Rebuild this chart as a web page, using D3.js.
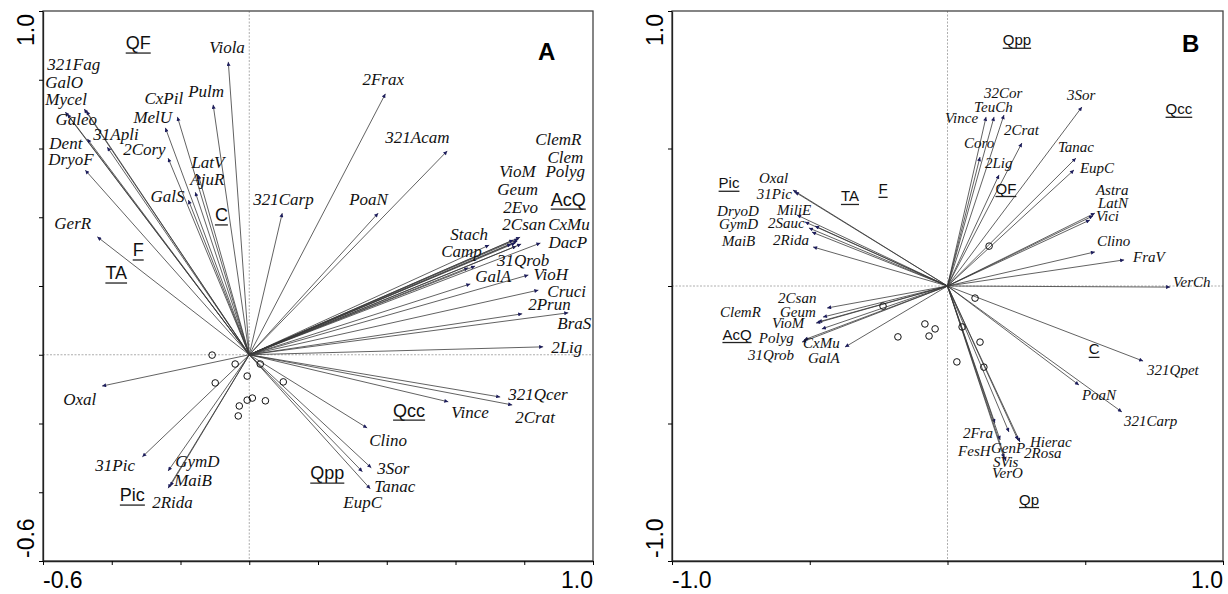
<!DOCTYPE html>
<html>
<head>
<meta charset="utf-8">
<script src="https://cdn.jsdelivr.net/npm/d3@7"></script>
<style>
  body { margin: 0; background: #fff; }
</style>
</head>
<body>
<svg id="chart" width="1228" height="594"></svg>
<script>
// ---- data: panel A (species arrow tips, env centroids, sites) ----
const speciesA = [
  ["Viola", -0.061, 0.852], ["Pulm", -0.105, 0.727], ["CxPil", -0.209, 0.692],
  ["MelU", -0.244, 0.660], ["321Fag", -0.480, 0.715], ["GalO", -0.474, 0.709],
  ["Mycel", -0.535, 0.706], ["Galeo", -0.529, 0.700], ["31Apli", -0.413, 0.604],
  ["Dent", -0.471, 0.628], ["DryoF", -0.477, 0.537], ["2Cory", -0.236, 0.572],
  ["LatV", -0.148, 0.523], ["AjuR", -0.157, 0.473], ["GalS", -0.177, 0.450],
  ["GerR", -0.442, 0.343], ["321Carp", 0.096, 0.412], ["2Frax", 0.396, 0.759],
  ["321Acam", 0.576, 0.593], ["PoaN", 0.375, 0.412], ["Stach", 0.698, 0.319],
  ["Camp", 0.637, 0.253], ["31Qrob", 0.657, 0.258], ["ClemR", 0.788, 0.342],
  ["Clem", 0.783, 0.337], ["Polyg", 0.780, 0.331], ["VioM", 0.768, 0.334],
  ["Geum", 0.774, 0.325], ["2Evo", 0.762, 0.322], ["2Csan", 0.777, 0.316],
  ["CxMu", 0.791, 0.322], ["DacP", 0.847, 0.325], ["VioH", 0.812, 0.232],
  ["GalA", 0.643, 0.206], ["Cruci", 0.841, 0.188], ["2Prun", 0.794, 0.119],
  ["BraS", 0.928, 0.122], ["2Lig", 0.855, 0.023], ["321Qcer", 0.730, -0.123],
  ["2Crat", 0.765, -0.146], ["Vince", 0.579, -0.137], ["Clino", 0.343, -0.213],
  ["3Sor", 0.355, -0.329], ["EupC", 0.329, -0.340], ["Tanac", 0.352, -0.390],
  ["Oxal", -0.428, -0.091], ["31Pic", -0.311, -0.297], ["GymD", -0.236, -0.338],
  ["MaiB", -0.236, -0.388], ["2Rida", -0.230, -0.382]
];
const envA = [
  ["QF", -0.323, 0.907], ["TA", -0.387, 0.238], ["F", -0.323, 0.305],
  ["C", -0.081, 0.407], ["AcQ", 0.928, 0.453], ["Qcc", 0.465, -0.161],
  ["Qpp", 0.227, -0.344], ["Pic", -0.340, -0.408]
];
const sitesA = [
  [-0.108, -0.001], [-0.041, -0.027], [0.032, -0.027], [-0.006, -0.062],
  [-0.099, -0.082], [0.099, -0.079], [-0.006, -0.132], [0.009, -0.126],
  [0.047, -0.134], [-0.029, -0.149], [-0.032, -0.178]
];
const ticksA = [-0.6, -0.4, -0.2, 0, 0.2, 0.4, 0.6, 0.8, 1.0];
const endLabelsA = ["-0.6", "1.0"];

// ---- data: panel B ----
const speciesB = [
  ["32Cor", 0.205, 0.622], ["TeuCh", 0.169, 0.615], ["Vince", 0.140, 0.615],
  ["Coro", 0.118, 0.469], ["2Lig", 0.187, 0.404], ["2Crat", 0.270, 0.520],
  ["3Sor", 0.488, 0.651], ["Tanac", 0.466, 0.465], ["EupC", 0.459, 0.422],
  ["Astra", 0.535, 0.265], ["LatN", 0.528, 0.255], ["Vici", 0.517, 0.240],
  ["Clino", 0.535, 0.124], ["FraV", 0.641, 0.095], ["VerCh", 0.808, -0.004],
  ["321Qpet", 0.710, -0.273], ["PoaN", 0.477, -0.360], ["321Carp", 0.633, -0.458],
  ["2Fra", 0.172, -0.498], ["FesH", 0.191, -0.560], ["GenP", 0.223, -0.531],
  ["SVis", 0.212, -0.636], ["VerO", 0.205, -0.625], ["Hierac", 0.263, -0.567],
  ["2Rosa", 0.256, -0.560], ["Oxal", -0.561, 0.349], ["31Pic", -0.554, 0.342],
  ["MiliE", -0.546, 0.258], ["DryoD", -0.517, 0.233], ["2Sauc", -0.481, 0.218],
  ["GymD", -0.503, 0.211], ["MaiB", -0.492, 0.196], ["2Rida", -0.488, 0.142],
  ["2Csan", -0.437, -0.080], ["Geum", -0.452, -0.113], ["ClemR", -0.470, -0.131],
  ["VioM", -0.477, -0.135], ["Polyg", -0.456, -0.156], ["CxMu", -0.528, -0.204],
  ["31Qrob", -0.521, -0.196], ["GalA", -0.372, -0.222]
];
const envB = [
  ["Qpp", 0.252, 0.895], ["QF", 0.212, 0.356], ["Qcc", 0.840, 0.644],
  ["Pic", -0.793, 0.375], ["TA", -0.354, 0.327], ["F", -0.234, 0.353],
  ["AcQ", -0.764, -0.175], ["C", 0.532, -0.229], ["Qp", 0.296, -0.775]
];
const sitesB = [
  [-0.234, -0.073], [-0.180, -0.185], [-0.082, -0.138], [-0.067, -0.182],
  [-0.045, -0.156], [0.034, -0.276], [0.053, -0.149], [0.100, -0.044],
  [0.118, -0.204], [0.132, -0.295], [0.151, 0.145]
];
const ticksB = [-1.0, -0.5, 0, 0.5, 1.0];
const endLabelsB = ["-1.0", "1.0"];

// label placement (pixel offset of text start/baseline from the arrow tip)
const nudgeA = {
  "321Fag": [-37, -39], GalO: [-41, -23], Mycel: [-20, -7], Galeo: [-12, 11],
  "31Apli": [-14, -7], Dent: [-38, 10], DryoF: [-37, -5], "2Cory": [-45, -3],
  CxPil: [-33, -13], MelU: [-32, -5], Pulm: [-25, -8], Viola: [-19, -9],
  LatV: [-7, -7], AjuR: [-5, -7], GalS: [-38, 2], GerR: [-43, -8],
  "321Carp": [-29, -8], PoaN: [-29, -8], "2Frax": [-23, -9], "321Acam": [-62, -8],
  ClemR: [15, -92], Clem: [29, -76], Polyg: [28, -64], VioM: [-14, -63],
  Geum: [-18, -48], "2Evo": [-8, -31], "2Csan": [-14, -16], CxMu: [27, -14],
  Stach: [-39, -5], Camp: [-27, -11], DacP: [8, 5], "31Qrob": [22, 0],
  VioH: [5, 5], GalA: [5, -2], Cruci: [9, 7], "2Prun": [6, -4], BraS: [-11, 16],
  "2Lig": [8, 6], "321Qcer": [8, 3], "2Crat": [3, 18], Vince: [3, 16],
  Clino: [2, 18], "3Sor": [6, 6], Tanac: [4, 3], EupC: [-19, 36],
  Oxal: [-39, 19], "31Pic": [-47, 14], GymD: [7, -4], MaiB: [6, -2], "2Rida": [-18, 22]
};
const nudgeB = {
  "32Cor": [-20, -17], TeuCh: [-20, -5], Vince: [-41, 6], "2Crat": [-18, -8],
  Coro: [-16, -9], "2Lig": [-14, -7], "3Sor": [-15, -7], Tanac: [-18, -6],
  EupC: [6, 3], Astra: [1, -18], LatN: [5, -8], Vici: [6, 1], Clino: [2, -6],
  FraV: [9, 2], VerCh: [3, 0], "321Qpet": [4, 14], PoaN: [3, 15],
  "321Carp": [2, 14], "2Fra": [-32, 15], FesH: [-42, 16], GenP: [-18, 21],
  Hierac: [10, 5], "2Rosa": [6, 18], SVis: [-13, 6], VerO: [-12, 20],
  Oxal: [-34, -7], "31Pic": [-38, 7], DryoD: [-88, -6], MiliE: [-20, 0],
  GymD: [-90, 1], "2Sauc": [-47, 2], MaiB: [-90, 14], "2Rida": [-40, -2],
  "2Csan": [-49, -5], ClemR: [-98, -5], Geum: [-43, 0], VioM: [-44, 5],
  Polyg: [-63, 14], CxMu: [1, 6], "31Qrob": [-56, 20], GalA: [-37, 16]
};

const svg = d3.select("#chart");

// arrowhead marker
svg.append("defs")
  .append("marker")
  .attr("id", "head")
  .attr("viewBox", "0 0 10 10")
  .attr("refX", 10)
  .attr("refY", 5)
  .attr("markerWidth", 6)
  .attr("markerHeight", 4)
  .attr("markerUnits", "userSpaceOnUse")
  .attr("orient", "auto")
  .append("path")
  .attr("d", "M0,0L10,5L0,10z")
  .attr("fill", "#1c1c5c");

function drawPanel(opt) {
  const g = svg.append("g");
  const x = d3.scaleLinear().domain(opt.domain).range([opt.left, opt.right]);
  const y = d3.scaleLinear().domain(opt.domain).range([opt.bottom, opt.top]);

  // dotted zero lines
  g.append("line")
    .attr("x1", x(0)).attr("x2", x(0))
    .attr("y1", opt.top).attr("y2", opt.bottom)
    .attr("stroke", "#999").attr("stroke-width", 0.8)
    .attr("stroke-dasharray", "2,1.5");
  g.append("line")
    .attr("x1", opt.left).attr("x2", opt.right)
    .attr("y1", y(0)).attr("y2", y(0))
    .attr("stroke", "#999").attr("stroke-width", 0.8)
    .attr("stroke-dasharray", "2,1.5");

  // species arrows
  g.selectAll(".arrow")
    .data(opt.species)
    .enter()
    .append("line")
    .attr("class", "arrow")
    .attr("x1", x(0)).attr("y1", y(0))
    .attr("x2", d => x(d[1])).attr("y2", d => y(d[2]))
    .attr("stroke", "#3a3a3a")
    .attr("stroke-width", 0.8)
    .attr("marker-end", "url(#head)");

  g.selectAll(".spLabel")
    .data(opt.species)
    .enter()
    .append("text")
    .attr("class", "spLabel")
    .attr("x", d => x(d[1]) + (opt.nudge[d[0]] || [3, 0])[0])
    .attr("y", d => y(d[2]) + (opt.nudge[d[0]] || [3, 0])[1])
    .attr("font-family", "'Liberation Serif', 'Times New Roman', serif")
    .attr("font-style", "italic")
    .attr("font-size", opt.spSize)
    .attr("fill", "#111")
    .text(d => d[0]);

  // sites
  g.selectAll(".site")
    .data(opt.sites)
    .enter()
    .append("circle")
    .attr("cx", d => x(d[0]))
    .attr("cy", d => y(d[1]))
    .attr("r", 3.3)
    .attr("fill", "none")
    .attr("stroke", "#111")
    .attr("stroke-width", 1);

  // nominal environmental variables, underlined by hand
  const env = g.selectAll(".env")
    .data(opt.env)
    .enter()
    .append("g")
    .attr("class", "env");
  env.append("text")
    .attr("x", d => x(d[1]))
    .attr("y", d => y(d[2]) + opt.envSize * 0.36)
    .attr("text-anchor", "middle")
    .attr("font-family", "'Liberation Sans', Arial, sans-serif")
    .attr("font-size", opt.envSize)
    .attr("fill", "#111")
    .text(d => d[0]);
  env.each(function (d) {
    const t = d3.select(this).select("text").node();
    const w = t.getComputedTextLength();
    const by = y(d[2]) + opt.envSize * 0.36 + opt.envSize * 0.2;
    d3.select(this).append("line")
      .attr("x1", x(d[1]) - w / 2).attr("x2", x(d[1]) + w / 2)
      .attr("y1", by).attr("y2", by)
      .attr("stroke", "#222")
      .attr("stroke-width", 1.3);
  });

  // frame
  g.append("rect")
    .attr("x", opt.left).attr("y", opt.top)
    .attr("width", opt.right - opt.left)
    .attr("height", opt.bottom - opt.top)
    .attr("fill", "none")
    .attr("stroke", "#444")
    .attr("stroke-width", 1.3);

  // axes with ticks only
  g.append("g")
    .attr("transform", `translate(0,${opt.bottom})`)
    .call(d3.axisBottom(x).tickValues(opt.ticks).tickFormat("").tickSize(4).tickSizeOuter(0))
    .call(a => a.select(".domain").attr("stroke", "#222").attr("stroke-width", 1.3));
  g.append("g")
    .attr("transform", `translate(${opt.left},0)`)
    .call(d3.axisLeft(y).tickValues(opt.ticks).tickFormat("").tickSize(4).tickSizeOuter(0))
    .call(a => a.select(".domain").attr("stroke", "#222").attr("stroke-width", 1.3));

  const axisFont = "'Liberation Sans', Arial, sans-serif";
  // x end labels
  g.append("text")
    .attr("x", opt.left).attr("y", opt.bottom + 27)
    .attr("font-family", axisFont).attr("font-size", 23)
    .text(opt.endLabels[0]);
  g.append("text")
    .attr("x", opt.right).attr("y", opt.bottom + 27)
    .attr("text-anchor", "end")
    .attr("font-family", axisFont).attr("font-size", 23)
    .text(opt.endLabels[1]);
  // y end labels (rotated)
  g.append("text")
    .attr("transform", `translate(${opt.left - 9},${opt.bottom - 3}) rotate(-90)`)
    .attr("font-family", axisFont).attr("font-size", 23)
    .text(opt.endLabels[0]);
  g.append("text")
    .attr("transform", `translate(${opt.left - 9},${opt.top + 3}) rotate(-90)`)
    .attr("text-anchor", "end")
    .attr("font-family", axisFont).attr("font-size", 23)
    .text(opt.endLabels[1]);

  // panel letter
  g.append("text")
    .attr("x", opt.letterX).attr("y", opt.letterY)
    .attr("font-family", axisFont).attr("font-size", 24)
    .attr("font-weight", "bold")
    .text(opt.letter);
}

drawPanel({
  left: 43, right: 593, top: 11, bottom: 561,
  domain: [-0.6, 1.0], ticks: ticksA, endLabels: endLabelsA,
  species: speciesA, env: envA, sites: sitesA, nudge: nudgeA,
  spSize: 17, envSize: 18, letter: "A", letterX: 538, letterY: 60
});

drawPanel({
  left: 672, right: 1223, top: 11, bottom: 561,
  domain: [-1.0, 1.0], ticks: ticksB, endLabels: endLabelsB,
  species: speciesB, env: envB, sites: sitesB, nudge: nudgeB,
  spSize: 15, envSize: 15, letter: "B", letterX: 1182, letterY: 52
});
</script>
</body>
</html>
